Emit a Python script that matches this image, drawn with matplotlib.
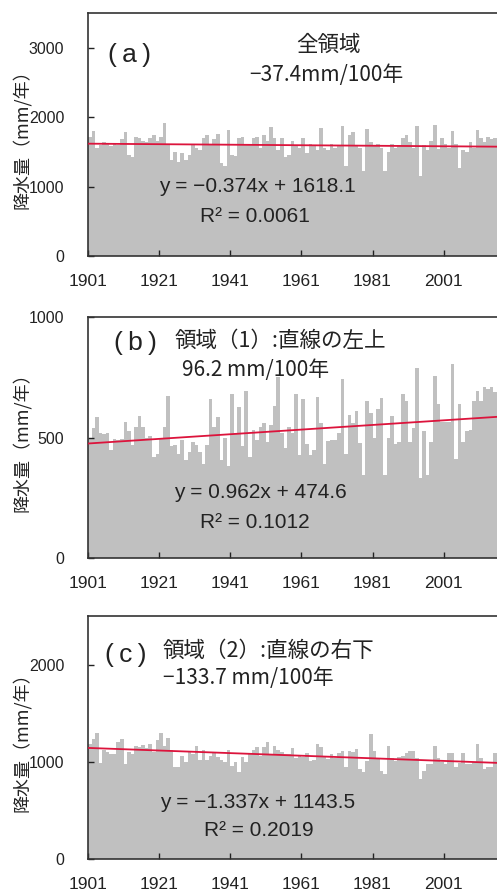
import matplotlib
matplotlib.use('Agg')
import matplotlib.pyplot as plt
import numpy as np

# ---------------- data ----------------
years = list(range(1901, 2016))

precip_all = [
    1720, 1800, 1560, 1600, 1640, 1620, 1580, 1620, 1600, 1680,
    1790, 1450, 1430, 1720, 1700, 1650, 1640, 1700, 1750, 1660,
    1720, 1920, 1600, 1380, 1500, 1350, 1480, 1380, 1460, 1600,
    1560, 1520, 1700, 1740, 1600, 1690, 1760, 1340, 1300, 1820,
    1450, 1440, 1700, 1720, 1600, 1620, 1700, 1720, 1560, 1740,
    1650, 1860, 1700, 1520, 1700, 1420, 1460, 1650, 1600, 1550,
    1700, 1480, 1620, 1580, 1520, 1850, 1560, 1520, 1620, 1560,
    1600, 1870, 1300, 1750, 1780, 1600, 1550, 1230, 1830, 1640,
    1580, 1620, 1560, 1220, 1500, 1620, 1560, 1600, 1700, 1740,
    1640, 1560, 1870, 1150, 1600, 1520, 1660, 1880, 1540, 1700,
    1620, 1560, 1800, 1620, 1270, 1520, 1500, 1640, 1560, 1820,
    1700, 1640, 1720, 1680, 1700]

precip_r1 = [
    500, 541, 583, 520, 515, 520, 450, 495, 490, 495,
    566, 527, 470, 545, 590, 545, 500, 505, 420, 430,
    500, 545, 672, 464, 470, 430, 490, 408, 440, 480,
    470, 440, 388, 470, 658, 545, 583, 408, 500, 380,
    680, 520, 625, 464, 692, 420, 530, 490, 545, 560,
    480, 550, 630, 750, 520, 455, 545, 520, 679, 429,
    658, 471, 429, 450, 666, 560, 388, 485, 490, 490,
    520, 741, 430, 592, 562, 608, 476, 346, 652, 600,
    500, 620, 663, 346, 500, 590, 475, 480, 680, 650,
    480, 540, 790, 330, 525, 345, 480, 755, 640, 565,
    565, 565, 804, 410, 640, 480, 525, 530, 650, 692,
    650, 710, 700, 710, 690]

precip_r2 = [
    1180, 1230, 1300, 990, 1120, 1100, 1080, 1080, 1200, 1230,
    980, 1100, 1080, 1160, 1150, 1170, 1140, 1180, 1100, 1220,
    1300, 1160, 1250, 1120, 950, 950, 1060, 1000, 1100, 1080,
    1160, 1020, 1120, 1020, 1060, 1100, 1050, 1020, 1000, 1120,
    960, 1000, 890, 1050, 1000, 1080, 1120, 1150, 1060, 1150,
    1200, 1080, 1160, 1120, 1100, 1080, 1080, 1146, 1044, 1061,
    1050, 1095, 1010, 1020, 1180, 1150, 1061, 1027, 1078, 1040,
    1095, 1112, 942, 1112, 1100, 1129, 925, 891, 1010, 1282,
    1112, 1027, 908, 874, 1163, 1044, 1010, 1050, 1061, 1095,
    1112, 1112, 1044, 823, 908, 976, 976, 1163, 1044, 1000,
    976, 1095, 1095, 942, 990, 1095, 976, 976, 1000, 1180,
    1044, 925, 942, 942, 1095]

slopes = [-0.374, 0.962, -1.337]
intercepts = [1618.1, 474.6, 1143.5]
r2_values = ['0.0061', '0.1012', '0.2019']
panel_labels = ['(\u2009a\u2009)', '(\u2009b\u2009)', '(\u2009c\u2009)']
region_titles = ['全領域', '領域（1）:直線の左上', '領域（2）:直線の右下']
trend_texts = ['−37.4mm/100年', '96.2 mm/100年', '−133.7 mm/100年']
y_max = [3500, 1000, 2500]
y_ticks = [[0, 1000, 2000, 3000], [0, 500, 1000], [0, 1000, 2000]]
x_tick_years = [1901, 1921, 1941, 1961, 1981, 2001]
y_label = '降水量（mm/年）'

series = [precip_all, precip_r1, precip_r2]

# ---------------- layout ----------------
W, H = 497, 893
fig = plt.figure(figsize=(W / 100, H / 100), dpi=100)
fig.patch.set_facecolor('white')

CJK = ['Noto Sans CJK JP', 'DejaVu Sans']
LAT = ['Liberation Sans', 'DejaVu Sans']

left_px, right_px = 88, 497
boxes = [(13, 256), (317, 558), (616, 859)]  # (top, bottom) in px

# text placements (px)
lab_pos = [(130, 55), (135, 343), (126, 655)]
title_pos = [(328, 45, 'center'), (175, 341, 'left'), (163, 651, 'left')]
trend_pos = [(326, 75, 'center'), (182, 370, 'left'), (163, 678, 'left')]
eq_pos = [(257, 187), (260, 493), (258, 802)]
r2_pos = [(255, 217), (255, 522), (259, 830)]

bar_color = '#c0c0c0'
line_color = '#dc143c'
txt_color = '#222222'

for k in range(3):
    top, bot = boxes[k]
    ax = fig.add_axes([left_px / W, 1 - bot / H, (right_px - left_px) / W, (bot - top) / H])
    ax.set_facecolor('white')
    vals = series[k]
    ax.bar(years, vals, width=1.0, align='edge', color=bar_color,
           edgecolor='none', linewidth=0, antialiased=False, zorder=1)
    xs = np.array([1901.0, 2016.0])
    idx = xs - 1900.5
    ax.plot(xs, slopes[k] * idx + intercepts[k], color=line_color, lw=1.3, zorder=3)

    ax.set_xlim(1901, 2016)
    ax.set_ylim(0, y_max[k])
    ax.set_xticks(x_tick_years)
    ax.set_xticklabels([str(y) for y in x_tick_years], family=LAT, fontsize=12.5)
    ax.set_yticks(y_ticks[k])
    ax.set_yticklabels([str(v) for v in y_ticks[k]], family=LAT, fontsize=11.5)
    ax.tick_params(axis='x', direction='in', length=4, width=1, pad=13, colors=txt_color)
    ax.tick_params(axis='y', direction='in', length=4, width=1, pad=17, colors=txt_color)
    for s in ['left', 'top', 'bottom']:
        ax.spines[s].set_color('#333333')
        ax.spines[s].set_linewidth(1.2)
    ax.spines['right'].set_visible(False)

    def fx(px):
        return (px - left_px) / (right_px - left_px)

    def fy(py):
        return (bot - py) / (bot - top)

    ax.text(fx(lab_pos[k][0]), fy(lab_pos[k][1]), panel_labels[k], transform=ax.transAxes,
            ha='center', va='center', family=LAT, fontsize=19, color=txt_color, zorder=5)
    tx, ty, tha = title_pos[k]
    ax.text(fx(tx), fy(ty), region_titles[k], transform=ax.transAxes,
            ha=tha, va='center', family=CJK, fontsize=15.5, color=txt_color, zorder=5)
    tx, ty, tha = trend_pos[k]
    ax.text(fx(tx), fy(ty), trend_texts[k], transform=ax.transAxes,
            ha=tha, va='center', family=CJK, fontsize=15, color=txt_color, zorder=5)
    sign = '−' if slopes[k] < 0 else ''
    eq = f'y = {sign}{abs(slopes[k]):.3f}x + {intercepts[k]:.1f}'
    ax.text(fx(eq_pos[k][0]), fy(eq_pos[k][1]), eq, transform=ax.transAxes,
            ha='center', va='center', family=LAT, fontsize=15, color=txt_color, zorder=5)
    ax.text(fx(r2_pos[k][0]), fy(r2_pos[k][1]), f'R² = {r2_values[k]}', transform=ax.transAxes,
            ha='center', va='center', family=LAT, fontsize=15, color=txt_color, zorder=5)

    fig.text(22 / W, 1 - ((top + bot) / 2) / H, y_label, rotation=90,
             ha='center', va='center', family=CJK, fontsize=13, color=txt_color)

fig.savefig('out.png', dpi=100, facecolor='white')
